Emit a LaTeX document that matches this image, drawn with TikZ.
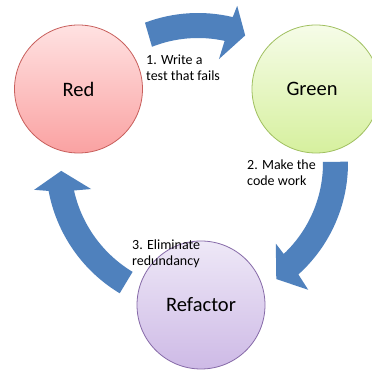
\documentclass[tikz,border=0pt]{standalone}
\usepackage{fontspec}
\setmainfont{Carlito}
\definecolor{arrowblue}{RGB}{79,129,189}
\definecolor{redtop}{RGB}{255,226,226}
\definecolor{redbot}{RGB}{250,162,162}
\definecolor{redline}{RGB}{200,95,92}
\definecolor{greentop}{RGB}{246,252,232}
\definecolor{greenbot}{RGB}{214,240,158}
\definecolor{greenline}{RGB}{160,192,96}
\definecolor{purptop}{RGB}{238,232,247}
\definecolor{purpbot}{RGB}{206,186,230}
\definecolor{purpline}{RGB}{134,106,168}
\tikzset{
  phase/.style={circle, minimum size=128pt, inner sep=0pt, line width=0.8pt,
    font=\fontsize{20.5}{24}\selectfont},
  redphase/.style={phase, draw=redline, top color=redtop, bottom color=redbot},
  greenphase/.style={phase, draw=greenline, top color=greentop, bottom color=greenbot},
  purpphase/.style={phase, draw=purpline, top color=purptop, bottom color=purpbot},
  steptext/.style={anchor=base west, align=left, inner sep=0pt,
    font=\fontsize{14}{16.5}\selectfont},
  cyclearrow/.style={fill=arrowblue}
}
\begin{document}
\begin{tikzpicture}[x=1pt,y=1pt]
\useasboundingbox (0,0) rectangle (372,371);
\fill[white] (0,0) rectangle (372,371);
% phases
\node[redphase] (red) at (78.5,282) {Red};
\node[greenphase] (green) at (316,282) {Green\kern8pt};
\node[purpphase] (refactor) at (201,66) {Refactor};
% cycle arrows
\coordinate (ring) at (198,208);
\begin{scope}[shift={(ring)}]
  \fill[cyclearrow] (110.7:150) arc[start angle=110.7,end angle=76.6,radius=150]
    -- (76:162) -- (69.7:136) -- (78.6:106) -- (77.7:125)
    arc[start angle=77.7,end angle=111.6,radius=125] -- cycle;
  \fill[cyclearrow] (0.5:150) arc[start angle=0.5,end angle=-48.0,radius=150]
    -- (-49:168) -- (-56:140) -- (-46:112) -- (-46.7:125)
    arc[start angle=-46.7,end angle=0.5,radius=125] -- cycle;
  \fill[cyclearrow] (239:152) arc[start angle=239,end angle=190.6,radius=152]
    -- (189.3:166) -- (183.3:137) -- (193.7:110) -- (192.5:127)
    arc[start angle=192.5,end angle=239,radius=127] -- cycle;
\end{scope}
% step labels
\node[steptext] (s1) at (146,290) {1. Write a\\test that fails};
\node[steptext] (s2) at (247,185) {2. Make the\\code work};
\node[steptext] (s3) at (132,105) {3. Eliminate\\redundancy};
\end{tikzpicture}
\end{document}
